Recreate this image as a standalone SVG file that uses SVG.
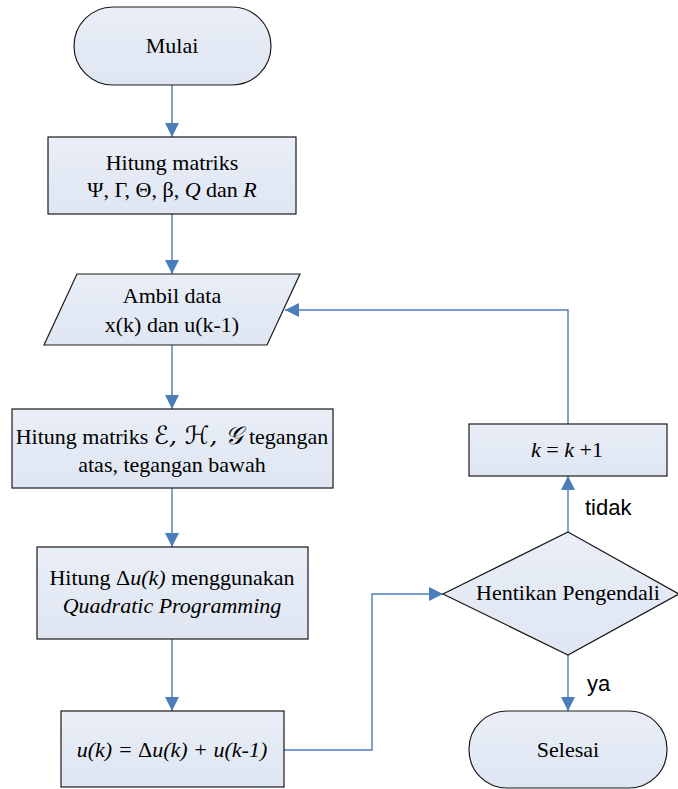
<svg xmlns="http://www.w3.org/2000/svg" width="678" height="789" viewBox="0 0 678 789">
<defs>
<linearGradient id="fill" x1="0" y1="0" x2="0" y2="1">
<stop offset="0" stop-color="#e9eef7"/>
<stop offset="1" stop-color="#dfe6f2"/>
</linearGradient>
<marker id="arr" markerUnits="userSpaceOnUse" markerWidth="14" markerHeight="14" refX="14" refY="7" orient="auto">
<path d="M0,0 L14,7 L0,14 z" fill="#4a7ebb"/>
</marker>
<style>
.shape{fill:url(#fill);stroke:#1a1a1a;stroke-width:1.2}
.t{font-family:"Liberation Serif","Times New Roman",serif;font-size:22px;fill:#000;text-anchor:middle}
.i{font-style:italic}
.lbl{font-family:"Liberation Sans",Arial,sans-serif;font-size:22px;fill:#000}
.c{fill:none;stroke:#4a7ebb;stroke-width:1.4;marker-end:url(#arr)}
.scr{font-family:"DejaVu Serif","DejaVu Sans","Noto Sans",serif;font-style:italic;font-size:25px}
</style>
</defs>
<rect width="678" height="789" fill="#ffffff"/>
<g id="connectors">
<path class="c" d="M172,85 L172,137"/>
<path class="c" d="M172,214 L172,274"/>
<path class="c" d="M172,345 L172,409"/>
<path class="c" d="M172,488 L172,547"/>
<path class="c" d="M172,639 L172,711"/>
<path class="c" d="M284,750 L372,750 L372,594 L443,594"/>
<path class="c" d="M568,532 L568,476"/>
<path class="c" d="M568,424 L568,310 L285,310"/>
<path class="c" d="M568,655 L568,711"/>
</g>
<g id="mulai">
<rect class="shape" x="74" y="7" width="197" height="78" rx="39" ry="39"/>
<text class="t" x="172" y="53">Mulai</text>
</g>
<g id="hitung-matriks-1">
<rect class="shape" x="48" y="137" width="248" height="77"/>
<text class="t" x="172" y="170">Hitung matriks</text>
<text class="t" x="172" y="197">Ψ, Γ, Θ, β, <tspan class="i">Q</tspan> dan <tspan class="i">R</tspan></text>
</g>
<g id="ambil-data">
<polygon class="shape" points="77,274 300,274 267,345 44,345"/>
<text class="t" x="172" y="303">Ambil data</text>
<text class="t" x="172" y="332">x(k) dan u(k-1)</text>
</g>
<g id="hitung-matriks-2">
<rect class="shape" x="12" y="409" width="321" height="79"/>
<text class="t" x="172" y="444">Hitung matriks <tspan class="scr">ℰ, ℋ, 𝒢</tspan> tegangan</text>
<text class="t" x="172" y="472">atas, tegangan bawah</text>
</g>
<g id="hitung-du">
<rect class="shape" x="37" y="547" width="271" height="92"/>
<text class="t" x="172" y="585">Hitung Δ<tspan class="i">u(k)</tspan> menggunakan</text>
<text class="t i" x="172" y="613">Quadratic Programming</text>
</g>
<g id="uk">
<rect class="shape" x="61" y="711" width="223" height="76"/>
<text class="t i" x="172" y="757">u(k) = <tspan font-style="normal">Δ</tspan>u(k)  + u(k-1)</text>
</g>
<g id="k-inc">
<rect class="shape" x="469" y="424" width="198" height="52"/>
<text class="t" x="567" y="457"><tspan class="i">k</tspan> = <tspan class="i">k</tspan> +1</text>
</g>
<g id="hentikan">
<polygon class="shape" points="568,532 679,594 568,655 443,594"/>
<text class="t" x="568" y="600">Hentikan Pengendali</text>
</g>
<g id="selesai">
<rect class="shape" x="469" y="711" width="198" height="77" rx="38" ry="38"/>
<text class="t" x="568" y="757">Selesai</text>
</g>
<g id="labels">
<text class="lbl" x="585" y="515">tidak</text>
<text class="lbl" x="587" y="691">ya</text>
</g>
</svg>
